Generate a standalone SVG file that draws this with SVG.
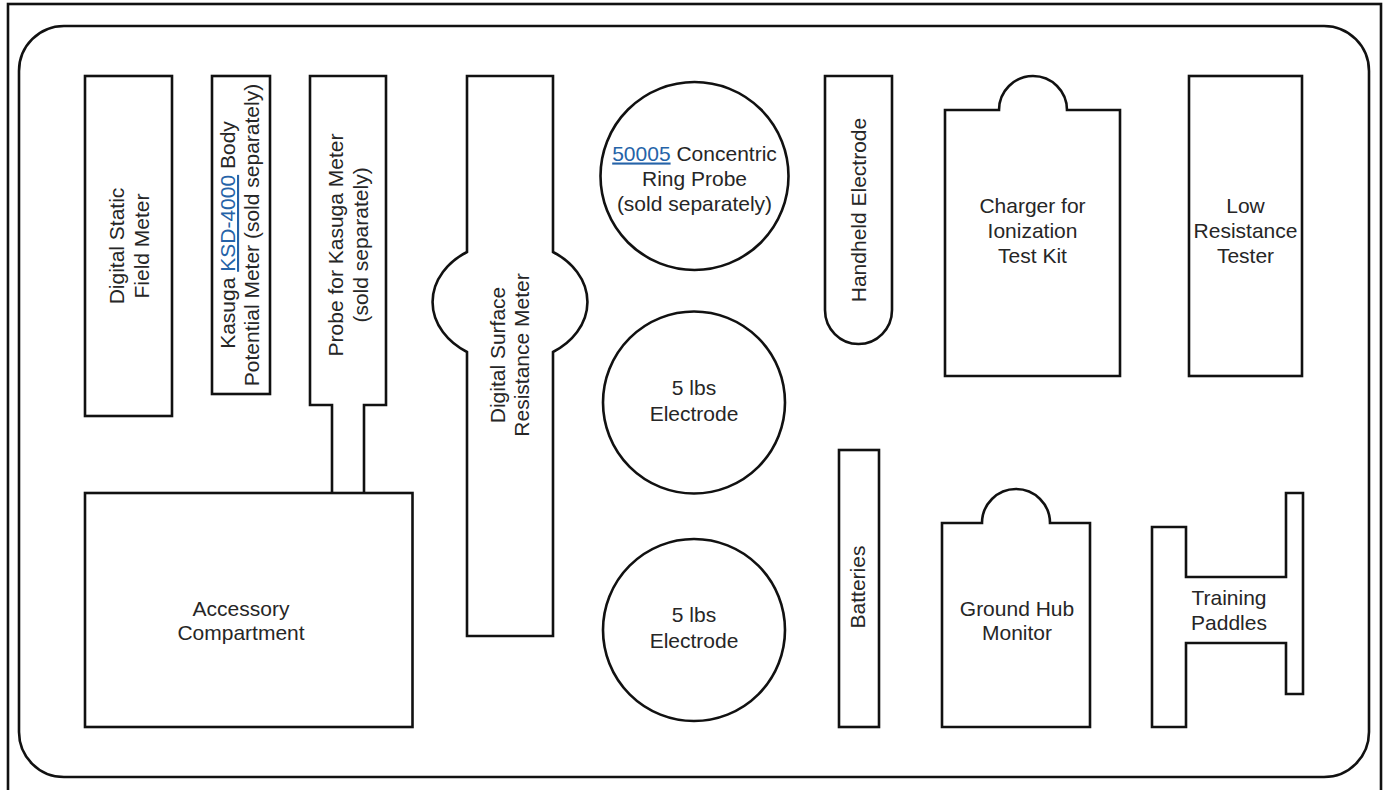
<svg xmlns="http://www.w3.org/2000/svg" width="1385" height="790" viewBox="0 0 1385 790">
<style>
.s{fill:none;stroke:#111;stroke-width:2.6;stroke-linejoin:miter}
.t{font-family:"Liberation Sans",Arial,sans-serif;font-size:21px;fill:#262626;text-anchor:middle}
.l{fill:#2563a8;text-decoration:underline}
</style>
<rect width="1385" height="790" fill="#fff"/>
<g id="frame">
<rect class="s" x="8" y="4" width="1373" height="800"/>
<rect class="s" x="19" y="26" width="1350" height="751" rx="45" ry="45"/>
</g>
<g id="digital-static-field-meter">
<rect class="s" x="85" y="76" width="87" height="340"/>
<text class="t" transform="translate(128.5,246) rotate(-90)"><tspan x="0" y="-5">Digital Static</tspan><tspan x="0" y="20">Field Meter</tspan></text>
</g>
<g id="kasuga-meter">
<rect class="s" x="212" y="76" width="58" height="318"/>
<text class="t" transform="translate(241,235) rotate(-90)"><tspan x="0" y="-6">Kasuga <tspan class="l">KSD-4000</tspan> Body</tspan><tspan x="0" y="18">Potential Meter (sold separately)</tspan></text>
</g>
<g id="probe-kasuga">
<path class="s" d="M332,493 V405 H310 V76 H386 V405 H364 V493"/>
<text class="t" transform="translate(348,245) rotate(-90)"><tspan x="0" y="-5">Probe for Kasuga Meter</tspan><tspan x="0" y="20">(sold separately)</tspan></text>
</g>
<g id="accessory-compartment">
<rect class="s" x="85" y="493" width="327.5" height="234"/>
<text class="t"><tspan x="241" y="615.5">Accessory</tspan><tspan x="241" y="640">Compartment</tspan></text>
</g>
<g id="digital-surface-resistance-meter">
<path class="s" d="M467,76 H553 V252 A77,60 0 0 1 553,352 V636 H467 V352 A77,60 0 0 1 467,252 Z"/>
<text class="t" transform="translate(510,355) rotate(-90)"><tspan x="0" y="-5">Digital Surface</tspan><tspan x="0" y="19">Resistance Meter</tspan></text>
</g>
<g id="concentric-ring-probe">
<circle class="s" cx="694.5" cy="176" r="94"/>
<text class="t"><tspan x="694.5" y="160.5"><tspan class="l">50005</tspan> Concentric</tspan><tspan x="694.5" y="185.5">Ring Probe</tspan><tspan x="694.5" y="210.5">(sold separately)</tspan></text>
</g>
<g id="electrode-1">
<circle class="s" cx="694" cy="402.5" r="91"/>
<text class="t"><tspan x="694" y="395">5 lbs</tspan><tspan x="694" y="421">Electrode</tspan></text>
</g>
<g id="electrode-2">
<circle class="s" cx="694" cy="630" r="91"/>
<text class="t"><tspan x="694" y="621.5">5 lbs</tspan><tspan x="694" y="647.5">Electrode</tspan></text>
</g>
<g id="handheld-electrode">
<path class="s" d="M825,76 H892 V310 A33.5,34 0 0 1 825,310 Z"/>
<text class="t" transform="translate(858.5,210) rotate(-90)"><tspan x="0" y="7">Handheld Electrode</tspan></text>
</g>
<g id="charger">
<path class="s" d="M945,110 H999 A34,34 0 0 1 1067,110 H1120 V376 H945 Z"/>
<text class="t"><tspan x="1032.5" y="212.5">Charger for</tspan><tspan x="1032.5" y="237.5">Ionization</tspan><tspan x="1032.5" y="262.5">Test Kit</tspan></text>
</g>
<g id="low-resistance-tester">
<rect class="s" x="1189" y="76" width="113" height="300"/>
<text class="t"><tspan x="1245.5" y="212.5">Low</tspan><tspan x="1245.5" y="237.5">Resistance</tspan><tspan x="1245.5" y="262.5">Tester</tspan></text>
</g>
<g id="batteries">
<rect class="s" x="839" y="450" width="40" height="277"/>
<text class="t" transform="translate(859,587) rotate(-90)"><tspan x="0" y="6">Batteries</tspan></text>
</g>
<g id="ground-hub-monitor">
<path class="s" d="M942,523 H982 A34,34 0 0 1 1050,523 H1090 V727 H942 Z"/>
<text class="t"><tspan x="1017" y="615.5">Ground Hub</tspan><tspan x="1017" y="640">Monitor</tspan></text>
</g>
<g id="training-paddles">
<path class="s" d="M1152,527 H1186 V577 H1286 V493 H1303 V694 H1286 V643 H1186 V727 H1152 Z"/>
<text class="t"><tspan x="1229" y="604.5">Training</tspan><tspan x="1229" y="629.5">Paddles</tspan></text>
</g>
<g id="connectors"/>
</svg>
